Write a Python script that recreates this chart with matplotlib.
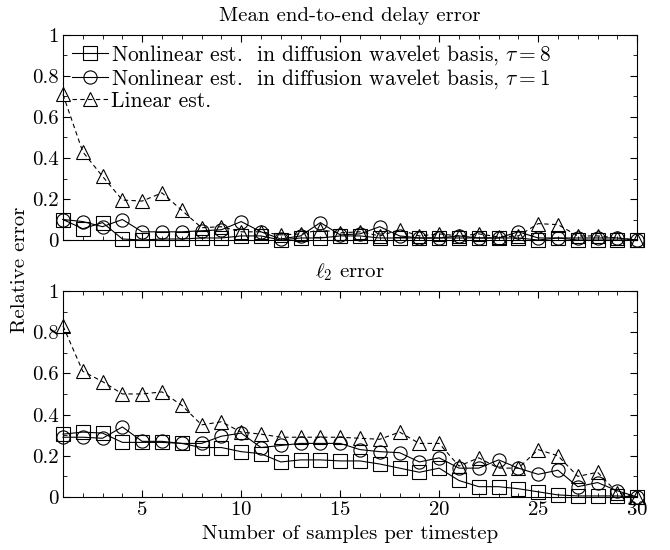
import numpy as np
import matplotlib
matplotlib.use("Agg")
import matplotlib.pyplot as plt
from matplotlib.ticker import MultipleLocator

# samples per timestep
samples = list(range(1, 31))

# mean end-to-end delay error
delay_tau8 = [0.10, 0.055, 0.085, 0.005, 0.0, 0.005, 0.005, 0.01, 0.01, 0.02,
              0.02, 0.0, 0.01, 0.01, 0.02, 0.02, 0.01, 0.01, 0.01, 0.01,
              0.01, 0.01, 0.01, 0.01, 0.0, 0.01, 0.0, 0.0, 0.0, 0.0]
delay_tau1 = [0.10, 0.09, 0.065, 0.10, 0.04, 0.04, 0.04, 0.045, 0.05, 0.09,
              0.04, 0.005, 0.02, 0.085, 0.025, 0.03, 0.065, 0.02, 0.01, 0.01,
              0.02, 0.01, 0.01, 0.04, 0.01, 0.01, 0.01, 0.01, 0.01, 0.0]
delay_lin = [0.71, 0.43, 0.31, 0.195, 0.19, 0.23, 0.145, 0.06, 0.065, 0.04,
             0.04, 0.025, 0.03, 0.05, 0.035, 0.04, 0.02, 0.05, 0.02, 0.03,
             0.02, 0.03, 0.015, 0.02, 0.08, 0.075, 0.02, 0.02, 0.01, 0.0]

# l2 error
l2_tau8 = [0.305, 0.315, 0.31, 0.265, 0.265, 0.265, 0.26, 0.24, 0.24, 0.22,
           0.21, 0.17, 0.18, 0.18, 0.175, 0.175, 0.16, 0.14, 0.12, 0.14,
           0.08, 0.05, 0.05, 0.04, 0.025, 0.01, 0.005, 0.005, 0.005, 0.0]
l2_tau1 = [0.29, 0.29, 0.285, 0.34, 0.27, 0.27, 0.26, 0.26, 0.295, 0.31,
           0.24, 0.25, 0.26, 0.26, 0.26, 0.23, 0.22, 0.215, 0.17, 0.19,
           0.14, 0.14, 0.18, 0.14, 0.11, 0.13, 0.05, 0.07, 0.03, 0.0]
l2_lin = [0.83, 0.61, 0.56, 0.50, 0.50, 0.51, 0.445, 0.35, 0.365, 0.315,
          0.305, 0.29, 0.29, 0.29, 0.29, 0.285, 0.28, 0.315, 0.26, 0.26,
          0.15, 0.19, 0.14, 0.14, 0.23, 0.20, 0.10, 0.12, 0.02, 0.0]

labels = [r"Nonlinear est.  in diffusion wavelet basis, $\tau = 8$",
          r"Nonlinear est.  in diffusion wavelet basis, $\tau = 1$",
          "Linear est."]

plt.rcParams["font.family"] = "serif"
plt.rcParams["font.serif"] = ["cmr10", "DejaVu Serif"]
plt.rcParams["mathtext.fontset"] = "cm"
plt.rcParams["axes.formatter.use_mathtext"] = True
plt.rcParams["font.size"] = 15

fig = plt.figure(figsize=(6.7, 5.5), dpi=100)
ax1 = fig.add_axes([0.094, 0.5636, 0.857, 0.3728])
ax2 = fig.add_axes([0.094, 0.0964, 0.857, 0.3746])


def ytick(v, pos):
    if abs(v) < 1e-9:
        return "0"
    if abs(v - 1) < 1e-9:
        return "1"
    return f"{v:.1f}"


def draw(ax, a, b, c):
    kw = dict(color="black", lw=0.8, mfc="none", mec="black", ms=9.5, mew=0.8, clip_on=False)
    ax.plot(samples, a, "s-", label=labels[0], **kw)
    ax.plot(samples, b, "o-", label=labels[1], **kw)
    ax.plot(samples, c, "^--", label=labels[2], dashes=(4, 3), **kw)
    ax.set_xlim(1, 30)
    ax.set_ylim(0, 1)
    ax.xaxis.set_major_locator(MultipleLocator(5))
    ax.xaxis.set_minor_locator(MultipleLocator(1))
    ax.yaxis.set_major_locator(MultipleLocator(0.2))
    ax.yaxis.set_minor_locator(MultipleLocator(0.1))
    ax.yaxis.set_major_formatter(ytick)
    ax.tick_params(which="both", direction="in", top=True, right=True, labelsize=15, pad=3)
    ax.tick_params(which="major", length=5)
    ax.tick_params(which="minor", length=3)


draw(ax1, delay_tau8, delay_tau1, delay_lin)
draw(ax2, l2_tau8, l2_tau1, l2_lin)

ax1.set_xticklabels([])
ax1.set_title("Mean end-to-end delay error", fontsize=15, pad=10)
ax2.set_title(r"$\ell_2$ error", fontsize=15, pad=10)
ax2.set_xlabel("Number of samples per timestep", fontsize=15, labelpad=4)
fig.text(0.03, 0.51, "Relative error", rotation=90, va="center", ha="center", fontsize=15)

ax1.legend(loc="upper left", frameon=False, handlelength=1.7, handletextpad=0.15,
           labelspacing=0.0, borderaxespad=0.3, borderpad=0.1, fontsize=15.5)

fig.savefig("out.png", dpi=100)
